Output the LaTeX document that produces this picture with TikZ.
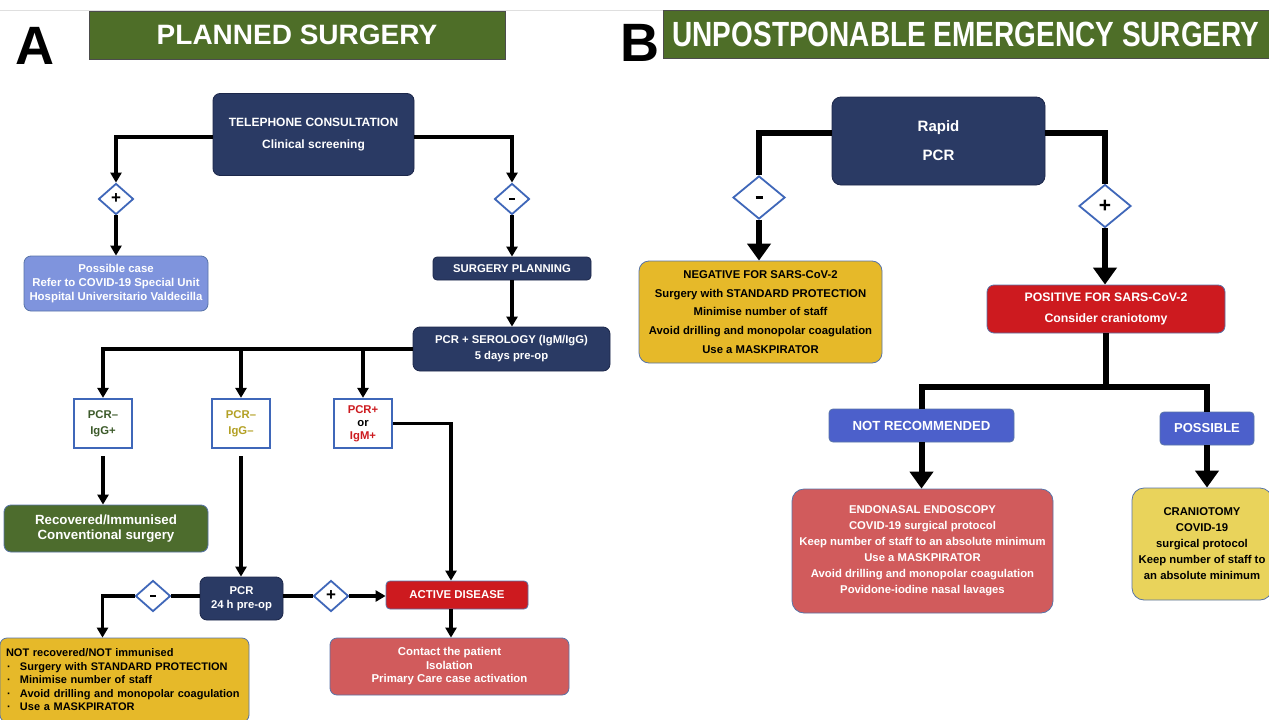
\documentclass[tikz,border=0pt]{standalone}
\usepackage{fontspec}
\setmainfont{Liberation Sans}
\newfontfamily\narrowsans{Liberation Sans}[FakeStretch=0.8]
\usetikzlibrary{shapes.geometric,arrows.meta}
\definecolor{navy}{HTML}{2A3A64}
\definecolor{navyline}{HTML}{1C274A}
\definecolor{titlegreen}{HTML}{4E6E28}
\definecolor{recgreen}{HTML}{4D6C2D}
\definecolor{possblue}{HTML}{7F94DD}
\definecolor{alertred}{HTML}{CD1A1F}
\definecolor{salmon}{HTML}{D15B5C}
\definecolor{gold}{HTML}{E6B929}
\definecolor{paleyellow}{HTML}{E9D35B}
\definecolor{midblue}{HTML}{4C60CB}
\definecolor{signblue}{HTML}{3F67B9}
\definecolor{boxline}{HTML}{5874A8}
\definecolor{igggreen}{HTML}{3C5A2A}
\definecolor{iggolive}{HTML}{B3A024}
\newcommand{\fsz}[2]{\fontsize{#1}{#2}\selectfont\bfseries}
\newcommand{\minusbar}[1]{\rule{#1}{0.4\dimexpr#1\relax}}
\tikzset{
  box/.style={rounded corners=7pt, draw=boxline, line width=0.8pt, align=center, inner sep=0pt},
  navybox/.style={box, fill=navy, draw=navyline, text=white},
  titlebar/.style={draw=black!70, line width=0.6pt, fill=titlegreen, text=white, inner sep=0pt},
  letter/.style={font=\fsz{54}{54}, inner sep=0pt},
  resultbox/.style={draw=signblue, line width=2.2pt, fill=white, align=center, inner sep=0pt,
    minimum width=58pt, minimum height=49pt, font=\fsz{11.3}{13}},
  sign/.style={diamond, draw=signblue, fill=white, line width=1.8pt, inner sep=0pt},
  smallsign/.style={sign, minimum width=35pt, minimum height=31pt, font=\fsz{17}{17}},
  bigsign/.style={sign, minimum width=52pt, minimum height=43pt, font=\fsz{21}{21}},
  plainline/.style={line width=3.5pt},
  flow/.style={plainline, -{Triangle[length=10pt,width=11pt]}},
  bigline/.style={line width=6pt},
  bigflow/.style={bigline, -{Triangle[length=17pt,width=23pt]}},
}
\begin{document}
\begin{tikzpicture}[x=1pt, y=-1pt]
  \useasboundingbox (0,0) rectangle (1269,720);
  \clip (0,0) rectangle (1269,720);
  \fill[white] (0,0) rectangle (1269,720);
  \draw[gray!25, line width=0.8pt] (0,10) -- (1269,10);

  % headings
  \node[letter] (labA) at (35,46) {A};
  \node[titlebar, minimum width=416pt, minimum height=48pt, font=\fsz{28}{28}] (barA) at (297,35) {PLANNED SURGERY};
  \node[letter] (labB) at (640,43) {B};
  \node[titlebar, minimum width=606pt, minimum height=48pt, font=\narrowsans\fsz{35}{35}] (barB) at (966,34.5) {UNPOSTPONABLE EMERGENCY SURGERY};

  % A: planned surgery
  \node[navybox, minimum width=201pt, minimum height=82pt, font=\fsz{12}{22}] (tel) at (313.5,134.5) {TELEPHONE CONSULTATION\\Clinical screening};
  \node[smallsign] (dpos1) at (116,199) {+};
  \node[smallsign] (dneg1) at (512,199) {\minusbar{6pt}};
  \node[box, fill=possblue, text=white, minimum width=184pt, minimum height=55pt, font=\fsz{11.4}{14}] (possible) at (116,283.5)
    {Possible case\\Refer to COVID-19 Special Unit\\Hospital Universitario Valdecilla};
  \node[navybox, rounded corners=4pt, minimum width=158pt, minimum height=23pt, font=\fsz{11.3}{14}] (plan) at (512,268.5) {SURGERY PLANNING};
  \node[navybox, minimum width=197pt, minimum height=44pt, font=\fsz{11.3}{16}] (sero) at (511.5,349) {PCR + SEROLOGY (IgM/IgG)\\5 days pre-op};

  \node[resultbox, font=\fsz{11.3}{16}, text=igggreen] (r1) at (103,423.5) {PCR--\\IgG+};
  \node[resultbox, font=\fsz{11.3}{16}, text=iggolive] (r2) at (241,423.5) {PCR--\\IgG--};
  \node[resultbox, text=alertred] (r3) at (363,423.5) {PCR+\\\textcolor{black}{or}\\IgM+};

  \node[box, fill=recgreen, text=white, minimum width=204pt, minimum height=47pt, font=\fsz{13.3}{15}] (recov) at (106,528.5)
    {Recovered/Immunised\\Conventional surgery};
  \node[navybox, minimum width=83pt, minimum height=43pt, font=\fsz{11.3}{14}] (pcr24) at (241.5,598.5) {PCR\\24 h pre-op};
  \node[smallsign] (dneg2) at (153,596) {\minusbar{6pt}};
  \node[smallsign] (dpos2) at (331,596) {+};
  \node[box, fill=alertred, text=white, rounded corners=4pt, minimum width=142pt, minimum height=28pt, font=\fsz{11.4}{14}] (active) at (457,595) {ACTIVE DISEASE};
  \node[box, fill=gold, text=black, align=left, text width=243pt, inner xsep=3pt, minimum height=84pt, font=\fsz{11}{13.5}] (notrec) at (124.5,680)
    {\hspace*{3pt}NOT recovered/NOT immunised\\
     \makebox[17pt][l]{\hspace*{4pt}·}Surgery with STANDARD PROTECTION\\
     \makebox[17pt][l]{\hspace*{4pt}·}Minimise number of staff\\
     \makebox[17pt][l]{\hspace*{4pt}·}Avoid drilling and monopolar coagulation\\
     \makebox[17pt][l]{\hspace*{4pt}·}Use a MASKPIRATOR};
  \node[box, fill=salmon, text=white, minimum width=239pt, minimum height=57pt, font=\fsz{11.4}{13.5}] (contact) at (449.5,666.5)
    {Contact the patient\\Isolation\\Primary Care case activation};

  \draw[flow] ([yshift=-2.5pt]tel.west) -| (dpos1.north);
  \draw[flow] (dpos1.south) -- (possible.north);
  \draw[flow] ([yshift=-2.5pt]tel.east) -| (dneg1.north);
  \draw[flow] (dneg1.south) -- (plan.north);
  \draw[flow] (plan.south) -- (plan.south |- sero.north);
  \draw[flow] (sero.west) -| (r1.north);
  \draw[flow] (r2.north |- sero.west) -- (r2.north);
  \draw[flow] (r3.north |- sero.west) -- (r3.north);
  \draw[flow, shorten <=7pt] (r1.south) -- (r1.south |- recov.north);
  \draw[flow, shorten <=7pt] (r2.south) -- (r2.south |- pcr24.north);
  \draw[flow] (r3.east) -| ([xshift=-6pt]active.north);
  \draw[plainline] (dpos2.west -| pcr24.east) -- (dpos2.west);
  \draw[flow] (dpos2.east) -- (dpos2.east -| active.west);
  \draw[plainline] (dneg2.east -| pcr24.west) -- (dneg2.east);
  \draw[flow] (dneg2.west) -| ([xshift=-22pt]notrec.north);
  \draw[flow] ([xshift=-6pt]active.south) -- ([xshift=-6pt]active.south |- contact.north);

  % B: emergency surgery
  \node[navybox, rounded corners=9pt, minimum width=213pt, minimum height=88pt, font=\fsz{15}{29}] (rapid) at (938.5,141) {Rapid\\PCR};
  \node[bigsign] (dneg3) at (759,197.5) {\minusbar{7pt}};
  \node[bigsign] (dpos3) at (1105,206) {+};
  \node[box, rounded corners=10pt, fill=gold, text=black, minimum width=243pt, minimum height=102pt, font=\fsz{11.3}{18.6}] (negative) at (760.5,312)
    {NEGATIVE FOR SARS-CoV-2\\Surgery with STANDARD PROTECTION\\Minimise number of staff\\Avoid drilling and monopolar coagulation\\Use a MASKPIRATOR};
  \node[box, fill=alertred, text=white, minimum width=238pt, minimum height=48pt, font=\fsz{12.3}{21}] (positive) at (1106,309)
    {POSITIVE FOR SARS-CoV-2\\Consider craniotomy};
  \node[box, rounded corners=4pt, fill=midblue, text=white, minimum width=185pt, minimum height=33pt, font=\fsz{13.2}{15}] (notrecom) at (921.5,425.5) {NOT RECOMMENDED};
  \node[box, rounded corners=4pt, fill=midblue, text=white, minimum width=94pt, minimum height=33pt, font=\fsz{13}{15}] (possible2) at (1207,428.5) {POSSIBLE};
  \node[box, rounded corners=12pt, fill=salmon, text=white, minimum width=261pt, minimum height=124pt, font=\fsz{11.3}{16}] (endo) at (922.5,551)
    {ENDONASAL ENDOSCOPY\\COVID-19 surgical protocol\\Keep number of staff to an absolute minimum\\Use a MASKPIRATOR\\Avoid drilling and monopolar coagulation\\Povidone-iodine nasal lavages};
  \node[box, rounded corners=12pt, fill=paleyellow, text=black, minimum width=140pt, minimum height=112pt, font=\fsz{11.3}{16}] (cranio) at (1202,544)
    {CRANIOTOMY\\COVID-19\\surgical protocol\\Keep number of staff to\\an absolute minimum};
  \coordinate (fork) at (1106,387);

  \draw[bigline] ([yshift=8pt]rapid.west) -| (dneg3.north);
  \draw[bigflow] (dneg3.south) -- (dneg3.south |- negative.north);
  \draw[bigline] ([yshift=8pt]rapid.east) -| (dpos3.north);
  \draw[bigflow] (dpos3.south) -- (dpos3.south |- positive.north);
  \draw[bigline] (positive.south) -- (fork);
  \draw[bigline] (notrecom.north) |- (fork) -| (possible2.north);
  \draw[bigflow] (notrecom.south) -- (notrecom.south |- endo.north);
  \draw[bigflow] (possible2.south) -- (possible2.south |- cranio.north);
\end{tikzpicture}
\end{document}
